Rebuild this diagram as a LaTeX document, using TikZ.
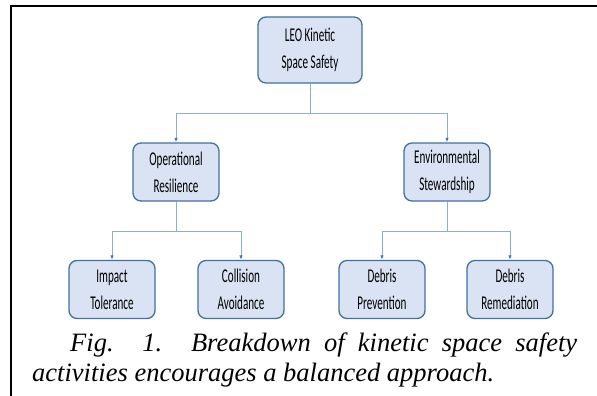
\documentclass[tikz,border=0pt]{standalone}
\usepackage{fontspec}
\setmainfont{Liberation Serif}
\newfontfamily\boxfont[FakeStretch=0.57]{Carlito}
\usepackage{tikz}
\usetikzlibrary{positioning,arrows.meta}

\definecolor{boxfill}{HTML}{DAE3F3}
\definecolor{boxline}{HTML}{41719C}
\definecolor{linkline}{HTML}{8FAADC}
\definecolor{linktip}{HTML}{4472C4}

\begin{document}
\begin{tikzpicture}[x=1pt, y=-1pt,
    >={Latex[length=4.5pt,width=3.5pt,color=linktip]},
    box/.style={draw=boxline, fill=boxfill, line width=1.3pt, rounded corners=8pt,
        inner sep=0pt, minimum width=86pt, minimum height=58pt, align=center,
        font=\boxfont\fontsize{19.5}{27}\selectfont},
    link/.style={draw=linkline, line width=0.9pt}]
    \useasboundingbox (0,0) rectangle (597,396);

    % Frame
    \draw[line width=2pt] (11,396) -- (11,6) -- (597,6);

    % Top node
    \node[box, minimum width=104pt, minimum height=66pt] (leo) at (310,50) {LEO Kinetic\\Space Safety};

    % Second level
    \node[box] (ops) at (176,172) {Operational\\Resilience};
    \node[box] (env) at (447,172) {Environmental\\Stewardship};

    % Third level
    \node[box] (impact) at (112,289.5) {Impact\\Tolerance};
    \node[box] (coll) at (241,289.5) {Collision\\Avoidance};
    \node[box] (prev) at (382,289.5) {Debris\\Prevention};
    \node[box] (remed) at (510,289.5) {Debris\\Remediation};

    % Junctions
    \coordinate (j1) at (310,113);
    \coordinate (j2) at (176,231);
    \coordinate (j3) at (447,231);

    % Connections
    \draw[link] (leo.south) -- (j1);
    \draw[link, ->] (j1) -| (ops.north);
    \draw[link, ->] (j1) -| (env.north);
    \draw[link] (ops.south) -- (j2);
    \draw[link, ->] (j2) -| (impact.north);
    \draw[link, ->] (j2) -| (coll.north);
    \draw[link] (env.south) -- (j3);
    \draw[link, ->] (j3) -| (prev.north);
    \draw[link, ->] (j3) -| (remed.north);

    % Caption
    \node[anchor=base west, inner sep=0pt, font=\itshape\fontsize{26.5}{30}\selectfont] (cap1) at (70,351)
        {\makebox[507pt][s]{Fig. 1. Breakdown of kinetic space safety}};
    \node[anchor=base west, inner sep=0pt, font=\itshape\fontsize{26.5}{30}\selectfont] (cap2) at (32,381)
        {activities encourages a balanced approach.};
\end{tikzpicture}
\end{document}
